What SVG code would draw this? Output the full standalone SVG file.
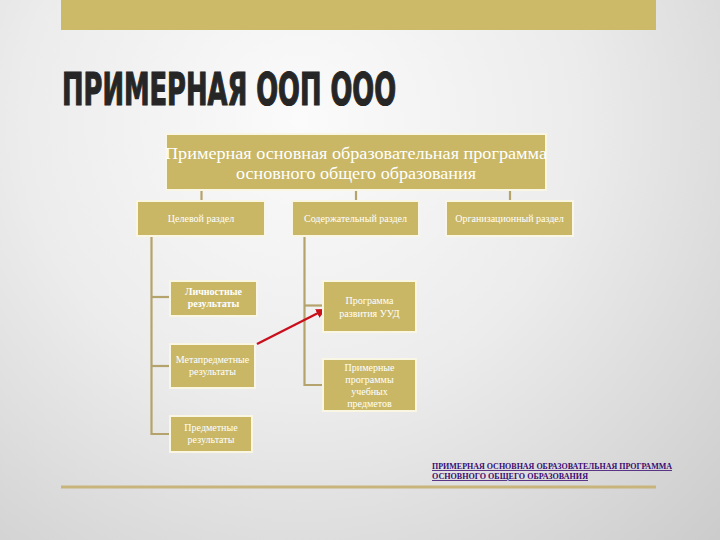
<svg xmlns="http://www.w3.org/2000/svg" width="720" height="540" viewBox="0 0 720 540">
<defs>
<radialGradient id="bg" cx="300" cy="120" r="620" gradientUnits="userSpaceOnUse">
<stop offset="0" stop-color="#fbfbfb"/>
<stop offset="0.45" stop-color="#ececec"/>
<stop offset="1" stop-color="#c9c9c9"/>
</radialGradient>
<marker id="ah" viewBox="0 0 10 10" refX="9" refY="5" markerWidth="4" markerHeight="4" orient="auto" markerUnits="strokeWidth">
<path d="M0,0 L10,5 L0,10 z" fill="#c8101c"/>
</marker>
<style>
.box{fill:#c9b766;stroke:#faf6e4;stroke-width:2}
.ln{stroke:#b4a36c;stroke-width:2.2;fill:none}
.t{font-family:"Liberation Serif","DejaVu Serif",serif;fill:#ffffff;text-anchor:middle}
.s{font-size:10px}
.lk{font-family:"Liberation Serif","DejaVu Serif",serif;font-size:8px;font-weight:bold;fill:#3a0a72;text-decoration:underline}
</style>
</defs>
<rect width="720" height="540" fill="url(#bg)"/>
<rect x="61" y="0" width="595" height="30" fill="#cdba68"/>
<text x="62" y="105" font-family="'DejaVu Sans Condensed','DejaVu Sans',sans-serif" font-weight="bold" font-size="45" fill="#262626" stroke="#262626" stroke-width="1.2" textLength="334" lengthAdjust="spacingAndGlyphs">ПРИМЕРНАЯ ООП ООО</text>
<line x1="61" y1="487" x2="656" y2="487" stroke="#c8b57c" stroke-width="3"/>

<g id="connectors">
<line class="ln" x1="201.5" y1="190" x2="201.5" y2="201"/>
<line class="ln" x1="356" y1="190" x2="356" y2="201"/>
<line class="ln" x1="510" y1="190" x2="510" y2="201"/>
<polyline class="ln" points="151.5,237 151.5,434 170,434"/>
<line class="ln" x1="151.5" y1="297" x2="170" y2="297"/>
<line class="ln" x1="151.5" y1="366" x2="170" y2="366"/>
<polyline class="ln" points="304.5,237 304.5,385 323,385"/>
<line class="ln" x1="304.5" y1="305.5" x2="323" y2="305.5"/>
<line x1="257" y1="344" x2="325" y2="309.5" stroke="#c8101c" stroke-width="2.4" marker-end="url(#ah)"/>
</g>

<g id="root">
<rect class="box" x="166" y="134" width="380" height="56"/>
<text class="t" x="356" y="159" font-size="17.5" textLength="382" lengthAdjust="spacingAndGlyphs">Примерная основная образовательная программа</text>
<text class="t" x="356" y="179" font-size="17.5" textLength="240" lengthAdjust="spacingAndGlyphs">основного общего образования</text>
</g>
<g id="tselevoy">
<rect class="box" x="137" y="201" width="128" height="35"/>
<text class="t s" x="201" y="222">Целевой раздел</text>
</g>
<g id="soderzh">
<rect class="box" x="292" y="201" width="127" height="35"/>
<text class="t s" x="355.5" y="222">Содержательный раздел</text>
</g>
<g id="organiz">
<rect class="box" x="446" y="201" width="127" height="35"/>
<text class="t s" x="509.5" y="222">Организационный раздел</text>
</g>
<g id="lichnostnye">
<rect class="box" x="170" y="281" width="87" height="35"/>
<text class="t s" x="213.5" y="295" font-weight="bold">Личностные</text>
<text class="t s" x="213.5" y="307" font-weight="bold">результаты</text>
</g>
<g id="metapredmetnye">
<rect class="box" x="170" y="344" width="85" height="44"/>
<text class="t s" x="212.5" y="363">Метапредметные</text>
<text class="t s" x="212.5" y="375">результаты</text>
</g>
<g id="predmetnye">
<rect class="box" x="170" y="416" width="82" height="36"/>
<text class="t s" x="211" y="431">Предметные</text>
<text class="t s" x="211" y="443">результаты</text>
</g>
<g id="uud">
<rect class="box" x="323" y="281" width="93" height="51"/>
<text class="t s" x="369.5" y="304">Программа</text>
<text class="t s" x="369.5" y="317">развития УУД</text>
</g>
<g id="primernye">
<rect class="box" x="323" y="359" width="93" height="52"/>
<text class="t s" x="369.5" y="371">Примерные</text>
<text class="t s" x="369.5" y="383">программы</text>
<text class="t s" x="369.5" y="395">учебных</text>
<text class="t s" x="369.5" y="407">предметов</text>
</g>
<g id="link">
<text class="lk" x="432" y="469" textLength="240" lengthAdjust="spacingAndGlyphs">ПРИМЕРНАЯ ОСНОВНАЯ ОБРАЗОВАТЕЛЬНАЯ ПРОГРАММА</text>
<text class="lk" x="432" y="479" textLength="156" lengthAdjust="spacingAndGlyphs">ОСНОВНОГО ОБЩЕГО ОБРАЗОВАНИЯ</text>
</g>
</svg>
